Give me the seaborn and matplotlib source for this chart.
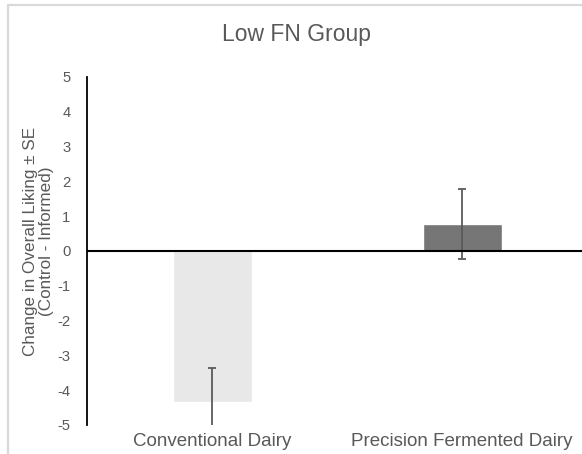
import matplotlib
matplotlib.use("Agg")
import matplotlib.pyplot as plt
import seaborn as sns
import pandas as pd

# Change in overall liking (control minus informed), low food-neophobia group
categories = ["Conventional Dairy", "Precision Fermented Dairy"]
mean_change = [-4.34, 0.77]
std_error = [0.98, 1.00]
bar_colors = ["#e8e8e8", "#767676"]
y_ticks = [-5, -4, -3, -2, -1, 0, 1, 2, 3, 4, 5]

df = pd.DataFrame({"product": categories, "change": mean_change})

sns.set_theme(style="white")
plt.rcParams["font.family"] = ["Liberation Sans", "DejaVu Sans"]

text_gray = "#595959"

fig = plt.figure(figsize=(5.82, 4.54), dpi=100)
ax = fig.add_axes([87 / 582, 29 / 454, 500 / 582, 348 / 454])

sns.barplot(data=df, x="product", y="change", hue="product", palette=bar_colors,
            width=0.316, legend=False, ax=ax, errorbar=None, saturation=1)

ax.errorbar(range(len(categories)), mean_change, yerr=std_error, fmt="none",
            ecolor="#5a5a5a", elinewidth=1.3, capsize=3.2, capthick=1.3, zorder=3)

ax.axhline(0, color="black", linewidth=1.5, zorder=4)

ax.set_xlim(-0.5, 1.5)
ax.set_ylim(-5, 5)
ax.set_yticks(y_ticks)
ax.set_yticklabels([str(v) for v in y_ticks])

for side in ("top", "right", "bottom"):
    ax.spines[side].set_visible(False)
ax.spines["left"].set_color("black")
ax.spines["left"].set_linewidth(1.3)

ax.tick_params(axis="y", length=0, pad=12, labelsize=10.6, labelcolor=text_gray)
ax.tick_params(axis="x", length=0, pad=6, labelsize=13.5, labelcolor=text_gray)
ax.set_xlabel("")
ax.set_ylabel("Change in Overall Liking ± SE\n(Control - Informed)",
              fontsize=12.3, color=text_gray, linespacing=1.12)
ax.yaxis.set_label_coords(-0.066, 0.527)

fig.text(297 / 582, 1 - 35 / 454, "Low FN Group", ha="center", va="center",
         fontsize=16.5, color=text_gray)

# chart-area frame along the top and left edges
fig.add_artist(plt.Line2D([8 / 582, 8 / 582], [0, 1 - 4.5 / 454], transform=fig.transFigure,
                          color="#d9d9d9", linewidth=1.6))
fig.add_artist(plt.Line2D([8 / 582, 1], [1 - 4.5 / 454, 1 - 4.5 / 454], transform=fig.transFigure,
                          color="#d9d9d9", linewidth=1.6))

fig.savefig("out.png", dpi=100)
